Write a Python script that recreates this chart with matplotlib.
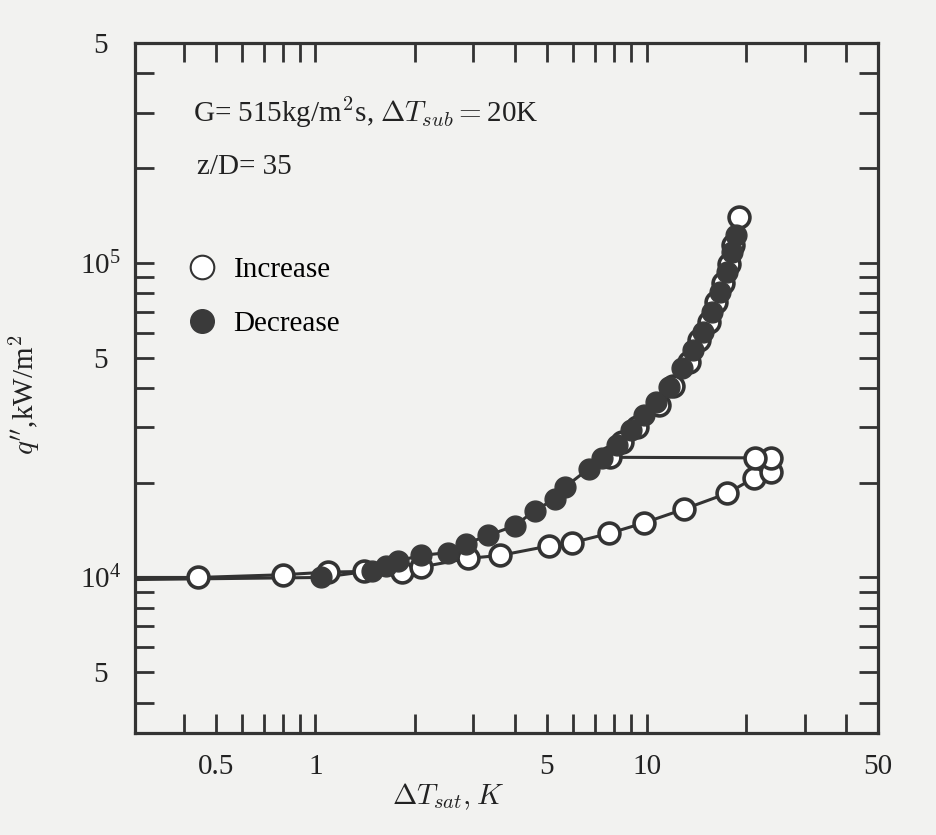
import matplotlib.pyplot as plt
from matplotlib.lines import Line2D
from matplotlib.ticker import FixedLocator, FixedFormatter, NullFormatter

plt.rcParams['font.family'] = ['Liberation Serif', 'DejaVu Serif']
plt.rcParams['mathtext.fontset'] = 'cm'

# increasing heat flux: lower branch up to ~22 K, jump back to the boiling curve, then up
# (first point is where the line enters from the left frame, no marker)
inc_x = [0.29, 0.443, 0.796, 1.09, 1.40, 1.82, 2.09, 2.89, 3.61, 5.09, 5.96, 7.70, 9.80,
         13.0, 17.5, 21.1, 23.7, 23.8, 21.3,
         7.75, 8.41, 9.33, 10.9, 12.0, 13.4, 14.4, 15.4, 16.2, 17.0, 17.7, 18.3, 19.0]
inc_y = [1.0e4, 1.0e4, 1.02e4, 1.04e4, 1.045e4, 1.04e4, 1.08e4, 1.15e4, 1.175e4, 1.26e4, 1.29e4, 1.38e4, 1.49e4,
         1.65e4, 1.85e4, 2.07e4, 2.16e4, 2.39e4, 2.40e4,
         2.41e4, 2.69e4, 3.0e4, 3.53e4, 4.06e4, 4.84e4, 5.69e4, 6.49e4, 7.51e4, 8.63e4, 9.93e4, 1.14e5, 1.40e5]

# decreasing heat flux (last point: line runs out to the left frame)
dec_x = [18.6, 18.1, 17.5, 16.7, 15.8, 14.8, 13.8, 12.8, 11.7, 10.7, 9.80, 8.96, 8.13, 7.33, 6.70,
         5.68, 5.30, 4.59, 4.00, 3.32, 2.85, 2.52, 2.09, 1.78, 1.63, 1.48, 1.04, 0.29]
dec_y = [1.23e5, 1.08e5, 9.36e4, 8.09e4, 6.98e4, 6.03e4, 5.28e4, 4.63e4, 4.03e4, 3.61e4, 3.28e4, 2.94e4, 2.63e4, 2.39e4, 2.22e4,
         1.94e4, 1.78e4, 1.63e4, 1.46e4, 1.36e4, 1.28e4, 1.20e4, 1.175e4, 1.13e4, 1.09e4, 1.05e4, 1.0e4, 0.985e4]

x_major = [0.5, 1, 5, 10, 50]
x_labels = ['0.5', '1', '5', '10', '50']
x_minor = [0.4, 0.6, 0.7, 0.8, 0.9, 2, 3, 4, 6, 7, 8, 9, 20, 30, 40]
y_major = [5e3, 1e4, 5e4, 1e5, 5e5]
y_labels = ['5', r'$\mathregular{10^4}$', '5', r'$\mathregular{10^5}$', '5']
y_minor = [4e3, 6e3, 7e3, 8e3, 9e3, 2e4, 3e4, 4e4, 6e4, 7e4, 8e4, 9e4, 2e5, 3e5, 4e5]

bg = '#f2f2f0'
ink = '#333333'

fig = plt.figure(figsize=(9.37, 8.35), dpi=100, facecolor=bg)
ax = fig.add_axes([0.144, 0.122, 0.793, 0.8265], facecolor=bg)
ax.set_xscale('log')
ax.set_yscale('log')

#--- curves ---#
ax.plot(inc_x, inc_y, '-', color=ink, lw=2.2, zorder=2)
ax.plot(dec_x, dec_y, '-', color=ink, lw=2.2, zorder=2)
ax.plot(inc_x[1:], inc_y[1:], 'o', ms=15, mfc='white', mec=ink, mew=2.6, zorder=3)
ax.plot(dec_x[:-1], dec_y[:-1], 'o', ms=15, mfc='#3a3a3a', mec='#3a3a3a', mew=1, zorder=4)

ax.set_xlim(0.285, 50)
ax.set_ylim(3.2e3, 5e5)

#--- ticks ---#
ax.xaxis.set_major_locator(FixedLocator(x_major))
ax.xaxis.set_major_formatter(FixedFormatter(x_labels))
ax.xaxis.set_minor_locator(FixedLocator(x_minor))
ax.xaxis.set_minor_formatter(NullFormatter())
ax.yaxis.set_major_locator(FixedLocator(y_major))
ax.yaxis.set_major_formatter(FixedFormatter(y_labels))
ax.yaxis.set_minor_locator(FixedLocator(y_minor))
ax.yaxis.set_minor_formatter(NullFormatter())

ax.tick_params(which='both', direction='in', top=True, right=True,
               length=14, width=2, color=ink, labelsize=21, labelcolor='#222222')
ax.tick_params(axis='x', which='major', pad=15)
ax.tick_params(axis='y', which='major', pad=25)
plt.setp(ax.get_yticklabels(), ha='center')

for s in ax.spines.values():
    s.set_linewidth(2.3)
    s.set_color(ink)

#--- labels ---#
ax.set_xlabel(r'$\Delta T_{sat}, K$', fontsize=21, color='#222222')
ax.xaxis.set_label_coords(0.421, -0.07)
ax.set_ylabel(r"$q''$,kW/m$^2$", fontsize=21, color='#222222')
ax.yaxis.set_label_coords(-0.125, 0.49)

ax.text(0.078, 0.899, r'G= 515kg/m$^2$s, $\Delta T_{sub} = $20K', transform=ax.transAxes,
        fontsize=21, va='center', color='#222222')
ax.text(0.083, 0.820, 'z/D= 35', transform=ax.transAxes,
        fontsize=21, va='center', color='#222222')

handles = [Line2D([], [], ls='none', marker='o', ms=17, mfc='white', mec=ink, mew=1.5),
           Line2D([], [], ls='none', marker='o', ms=17, mfc='#3a3a3a', mec='#3a3a3a')]
leg = ax.legend(handles, ['Increase', 'Decrease'], loc='upper left', bbox_to_anchor=(0.07, 0.69),
                borderaxespad=0, frameon=False, fontsize=21, handlelength=1.0,
                handletextpad=0.6, labelspacing=0.95, borderpad=0)

fig.savefig('out.png', dpi=100, facecolor=bg)
